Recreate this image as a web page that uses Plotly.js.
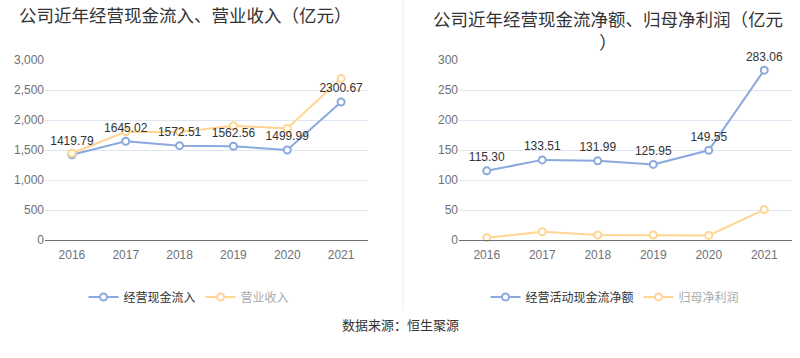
<!DOCTYPE html>
<html><head><meta charset="utf-8">
<script src="https://cdn.plot.ly/plotly-3.0.1.min.js"></script>
<style>html,body{margin:0;padding:0;background:#fff}#c{width:800px;height:358px}</style>
</head><body><div id="c"></div>
<script>
const years = ['2016','2017','2018','2019','2020','2021'];
const cashInflow = [1419.79, 1645.02, 1572.51, 1562.56, 1499.99, 2300.67];
const revenue = [1445, 1803, 1800, 1903, 1859, 2692];
const netCashFlow = [115.30, 133.51, 131.99, 125.95, 149.55, 283.06];
const netProfit = [3.9, 13.8, 8.3, 8.3, 7.7, 50.7];
const leftTicks = [0, 500, 1000, 1500, 2000, 2500, 3000];
const rightTicks = [0, 50, 100, 150, 200, 250, 300];

const BLUE = '#8aa9dc', ORANGE = '#ffd591';
const FONT = 'Liberation Sans, Arial, Noto Sans CJK SC, sans-serif';
const CJK = 'Noto Sans CJK SC, Liberation Sans, sans-serif';

function line(x, y, name, color, xa, ya, legend) {
  return {
    type: 'scatter', mode: 'lines+markers',
    x: x, y: y, name: name, xaxis: xa, yaxis: ya, legend: legend,
    line: {color: color, width: 2},
    marker: {symbol: 'circle', size: 7, color: '#fff', line: {color: color, width: 2}},
    cliponaxis: false, hoverinfo: 'x+y'
  };
}
function labels(x, y, xa, ya) {
  return {
    type: 'scatter', mode: 'markers+text', x: x, y: y, xaxis: xa, yaxis: ya, showlegend: false,
    marker: {size: 9, color: 'rgba(0,0,0,0)', line: {width: 0}},
    text: y.map(v => v.toFixed(2)), textposition: 'top center',
    textfont: {family: FONT, size: 12, color: '#333'}, cliponaxis: false, hoverinfo: 'skip'
  };
}

const data = [
  line(years, cashInflow, '经营现金流入', BLUE, 'x', 'y', 'legend'),
  line(years, revenue, '<span style="color:#aaa">营业收入</span>', ORANGE, 'x', 'y', 'legend'),
  labels(years, cashInflow, 'x', 'y'),
  line(years, netCashFlow, '经营活动现金流净额', BLUE, 'x2', 'y2', 'legend2'),
  line(years, netProfit, '<span style="color:#aaa">归母净利润</span>', ORANGE, 'x2', 'y2', 'legend2'),
  labels(years, netCashFlow, 'x2', 'y2')
];

function xa(domain, anchor) {
  return {domain: domain, anchor: anchor, type: 'category', range: [-0.5, 5.5],
    showline: true, linecolor: '#6e7079', linewidth: 1, showgrid: false, zeroline: false,
    ticks: '', ticklabelstandoff: 4,
    tickfont: {family: FONT, size: 12, color: '#6e7079'}, fixedrange: true};
}
function ya(domain, anchor, ticks) {
  return {domain: domain, anchor: anchor, range: [0, ticks[ticks.length-1]],
    tickmode: 'array', tickvals: ticks, tickformat: ',', showline: false,
    gridcolor: '#e0e6f1', gridwidth: 1, zeroline: false, ticks: '',
    tickfont: {family: FONT, size: 12, color: '#6e7079'}, fixedrange: true};
}
const yd = [1 - 240/358, 1 - 60/358];
const layout = {
  width: 800, height: 358, margin: {l: 0, r: 0, t: 0, b: 0},
  paper_bgcolor: '#fff', plot_bgcolor: '#fff',
  xaxis: xa([45/800, 368/800], 'y'),
  yaxis: ya(yd, 'x', leftTicks),
  xaxis2: xa([459/800, 792/800], 'y2'),
  yaxis2: ya(yd, 'x2', rightTicks),
  showlegend: true,
  legend: {orientation: 'h', x: 189/800, xanchor: 'center', y: 1 - 297/358, yanchor: 'middle',
    font: {family: CJK, size: 12, color: '#333'}, itemwidth: 30, tracegroupgap: 0},
  legend2: {orientation: 'h', x: 615/800, xanchor: 'center', y: 1 - 297/358, yanchor: 'middle',
    font: {family: CJK, size: 12, color: '#333'}, itemwidth: 30, tracegroupgap: 0},
  annotations: [
    {text: '公司近年经营现金流入、营业收入（亿元）', xref: 'paper', yref: 'paper', x: 185/800, y: 1 - 14/358,
      xanchor: 'center', yanchor: 'middle', showarrow: false, font: {family: CJK, size: 17.5, color: '#333'}},
    {text: '公司近年经营现金流净额、归母净利润（亿元<br>）', xref: 'paper', yref: 'paper', x: 608/800, y: 1 - 4/358,
      xanchor: 'center', yanchor: 'top', showarrow: false, font: {family: CJK, size: 17.5, color: '#333'}},
    {text: '数据来源：恒生聚源', xref: 'paper', yref: 'paper', x: 0.5, y: 1 - 324/358,
      xanchor: 'center', yanchor: 'middle', showarrow: false, font: {family: CJK, size: 13, color: '#333'}}
  ],
  shapes: [
    {type: 'line', xref: 'paper', yref: 'paper', x0: 403/800, x1: 403/800, y0: 1 - 310/358, y1: 1,
      line: {color: '#eeeeee', width: 1}}
  ]
};
Plotly.newPlot('c', data, layout, {displayModeBar: false, staticPlot: true});
</script></body></html>
